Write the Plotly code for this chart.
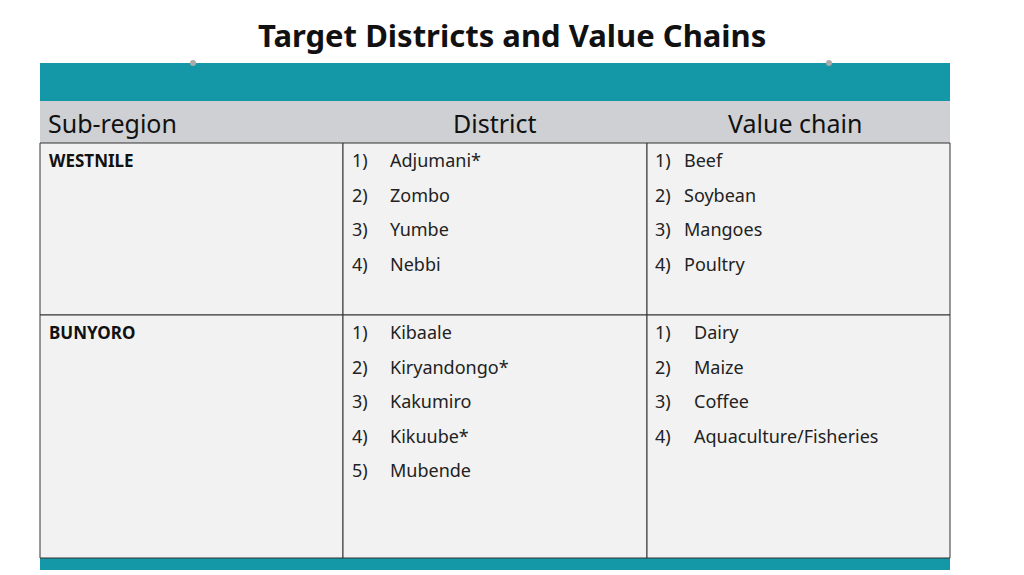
import plotly.graph_objects as go

title = "Target Districts and Value Chains"
headers = ["Sub-region", "District", "Value chain"]
subregions = ["WESTNILE", "BUNYORO"]
districts = [["Adjumani*", "Zombo", "Yumbe", "Nebbi"],
             ["Kibaale", "Kiryandongo*", "Kakumiro", "Kikuube*", "Mubende"]]
value_chains = [["Beef", "Soybean", "Mangoes", "Poultry"],
                ["Dairy", "Maize", "Coffee", "Aquaculture/Fisheries"]]

W, H = 1024, 575
OFF = 8  # page body margin
FONT = "Noto Sans, Open Sans, sans-serif"
TEAL = "#1497a6"
x0, x1, x2, x3 = 40, 343, 647, 950
row_tops = [143, 315]
row_bots = [315, 558]
step = 34.6

fig = go.Figure()
shapes, ann = [], []
shapes.append(dict(type="rect", x0=x0, x1=x3, y0=63, y1=101, fillcolor=TEAL, line_width=0, layer="below"))
shapes.append(dict(type="rect", x0=x0, x1=x3, y0=101, y1=143, fillcolor="#cfd0d3", line_width=0, layer="below"))
shapes.append(dict(type="rect", x0=x0, x1=x3, y0=558, y1=570, fillcolor=TEAL, line_width=0, layer="below"))
for t, b in zip(row_tops, row_bots):
    for a, c in [(x0, x1), (x1, x2), (x2, x3)]:
        shapes.append(dict(type="rect", x0=a, x1=c, y0=t, y1=b, fillcolor="#f2f2f2",
                           line=dict(color="#333", width=1), layer="below"))
for cx in (193, 829):
    shapes.append(dict(type="circle", x0=cx-3, x1=cx+3, y0=60, y1=66, fillcolor="#aaa", line_width=0))

ann.append(dict(x=512, y=35, text="<b>%s</b>" % title, font=dict(size=31, color="#111", family=FONT),
                showarrow=False, xanchor="center", yanchor="middle"))
ann.append(dict(x=46, y=123, text=headers[0], font=dict(size=25, color="#111", family=FONT),
                showarrow=False, xanchor="left", yanchor="middle"))
ann.append(dict(x=495, y=123, text=headers[1], font=dict(size=25, color="#111", family=FONT),
                showarrow=False, xanchor="center", yanchor="middle"))
ann.append(dict(x=795, y=123, text=headers[2], font=dict(size=25, color="#111", family=FONT),
                showarrow=False, xanchor="center", yanchor="middle"))

for r, (sr, ds, vs) in enumerate(zip(subregions, districts, value_chains)):
    ty = row_tops[r] + 17
    ann.append(dict(x=47, y=ty, text="<b>%s</b>" % sr, font=dict(size=17, color="#111", family=FONT),
                    showarrow=False, xanchor="left", yanchor="middle"))
    for i, d in enumerate(ds):
        y = ty + i * step
        ann.append(dict(x=350, y=y, text="%d)" % (i+1), font=dict(size=18, color="#222", family=FONT),
                        showarrow=False, xanchor="left", yanchor="middle"))
        ann.append(dict(x=388, y=y, text=d, font=dict(size=18, color="#222", family=FONT),
                        showarrow=False, xanchor="left", yanchor="middle"))
    tx = 682 if r == 0 else 692
    for i, v in enumerate(vs):
        y = ty + i * step
        ann.append(dict(x=653, y=y, text="%d)" % (i+1), font=dict(size=18, color="#222", family=FONT),
                        showarrow=False, xanchor="left", yanchor="middle"))
        ann.append(dict(x=tx, y=y, text=v, font=dict(size=18, color="#222", family=FONT),
                        showarrow=False, xanchor="left", yanchor="middle"))

fig.update_layout(width=W, height=H, margin=dict(l=0, r=0, t=0, b=0),
                  paper_bgcolor="white", plot_bgcolor="white", shapes=shapes, annotations=ann,
                  xaxis=dict(range=[OFF, W + OFF], visible=False, fixedrange=True),
                  yaxis=dict(range=[H + OFF, OFF], visible=False, fixedrange=True), showlegend=False)
fig.write_html("out.html", config={"displayModeBar": False})
